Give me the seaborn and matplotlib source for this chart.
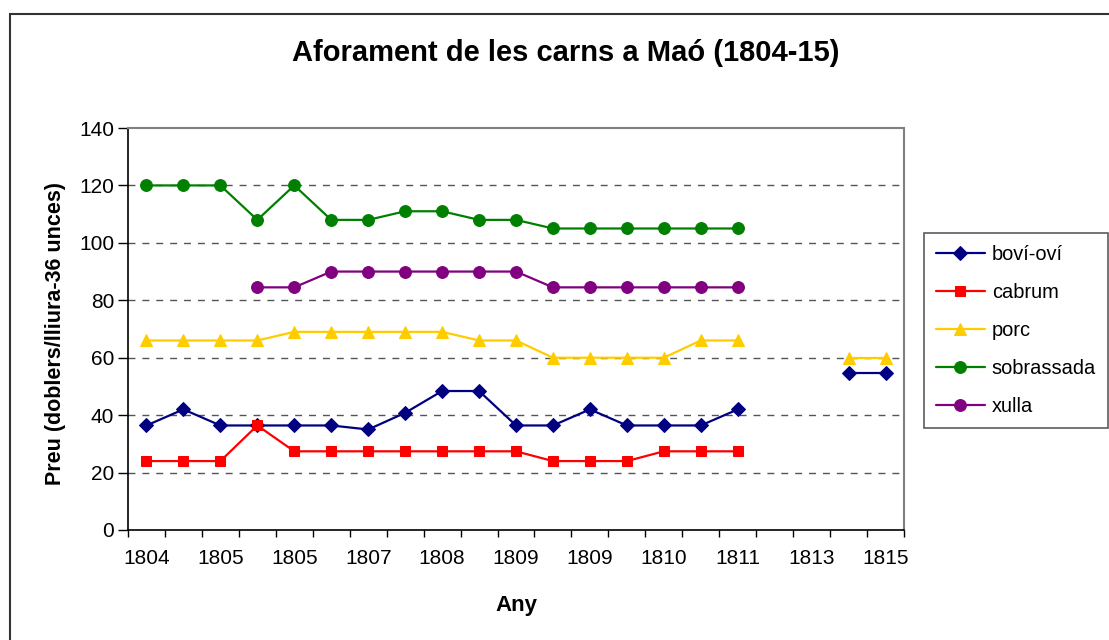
import numpy as np
import pandas as pd
import matplotlib
matplotlib.use("Agg")
import matplotlib.pyplot as plt
import seaborn as sns
from matplotlib.patches import Rectangle

# Dades llegides del gràfic (21 categories, etiqueta cada dues)
etiquetes_any = ["1804", "1805", "1805", "1807", "1808", "1809",
                 "1809", "1810", "1811", "1813", "1815"]
n_cat = 21
nan = np.nan

bovi_ovi = [36.4, 42.0, 36.4, 36.4, 36.4, 36.4, 35.0, 40.8, 48.4, 48.4, 36.4,
            36.4, 42.0, 36.4, 36.4, 36.4, 42.0, nan, nan, 54.5, 54.5]
cabrum = [24, 24, 24, 36.4, 27.4, 27.4, 27.4, 27.4, 27.4, 27.4, 27.4,
          24, 24, 24, 27.4, 27.4, 27.4, nan, nan, nan, nan]
porc = [66, 66, 66, 66, 69, 69, 69, 69, 69, 66, 66,
        60, 60, 60, 60, 66, 66, nan, nan, 60, 60]
sobrassada = [120, 120, 120, 108, 120, 108, 108, 111, 111, 108, 108,
              105, 105, 105, 105, 105, 105, nan, nan, nan, nan]
xulla = [nan, nan, nan, 84.5, 84.5, 90, 90, 90, 90, 90, 90,
         84.5, 84.5, 84.5, 84.5, 84.5, 84.5, nan, nan, nan, nan]

series = {"boví-oví": bovi_ovi, "cabrum": cabrum, "porc": porc,
          "sobrassada": sobrassada, "xulla": xulla}
colors = {"boví-oví": "#000080", "cabrum": "#FF0000", "porc": "#FFCC00",
          "sobrassada": "#008000", "xulla": "#800080"}
markers = {"boví-oví": "D", "cabrum": "s", "porc": "^",
           "sobrassada": "o", "xulla": "o"}
msizes = {"boví-oví": 7, "cabrum": 7.5, "porc": 9, "sobrassada": 8.5, "xulla": 8.5}

sns.set_style("white")
plt.rcParams["font.family"] = ["Liberation Sans", "DejaVu Sans"]
plt.rcParams["text.color"] = "black"
plt.rcParams["axes.labelcolor"] = "black"
plt.rcParams["xtick.color"] = "black"
plt.rcParams["ytick.color"] = "black"

fig = plt.figure(figsize=(11.09, 6.4), dpi=100)
ax = fig.add_axes([0.1154, 0.1719, 0.8152 - 0.1154, 0.8 - 0.1719])

x = np.arange(n_cat)
for nom, vals in series.items():
    df = pd.DataFrame({"x": x, "preu": vals})
    # separar en trams continus per deixar els buits
    df["tram"] = df["preu"].isna().cumsum()
    df = df.dropna()
    first = True
    for _, tram in df.groupby("tram"):
        sns.lineplot(data=tram, x="x", y="preu", ax=ax, color=colors[nom],
                     marker=markers[nom], markersize=msizes[nom],
                     markeredgecolor=colors[nom], linewidth=1.6,
                     label=nom if first else None, legend=False)
        first = False

ax.set_xlim(-0.5, n_cat - 0.5)
ax.set_ylim(0, 140)
ax.set_yticks(range(0, 141, 20))
ax.set_xticks(range(0, n_cat, 2))
ax.set_xticklabels(etiquetes_any)
ax.set_xticks(np.arange(-0.5, n_cat, 1), minor=True)
ax.tick_params(axis="x", which="major", length=0, pad=14, labelsize=15)
ax.tick_params(axis="x", which="minor", length=5, width=1, color="black",
               direction="out", bottom=True)
ax.tick_params(axis="y", length=7, width=1, color="black", direction="out",
               left=True, labelsize=15, pad=3)

for yv in range(20, 140, 20):
    ax.axhline(yv, color="#555555", linewidth=1, linestyle=(0, (5, 5)), zorder=0)

for s in ["left", "bottom"]:
    ax.spines[s].set_color("black")
    ax.spines[s].set_linewidth(1.2)
for s in ["top", "right"]:
    ax.spines[s].set_color("#808080")
    ax.spines[s].set_linewidth(1.5)

ax.set_xlabel("Any", fontsize=16, fontweight="bold", labelpad=19)
ax.set_ylabel("Preu (doblers/lliura-36 unces)", fontsize=15.5,
              fontweight="bold")
ax.yaxis.set_label_coords(-0.08, 0.49)
fig.text(0.51, 0.917, "Aforament de les carns a Maó (1804-15)",
         fontsize=21, fontweight="bold", ha="center", va="center")

handles, labels = ax.get_legend_handles_labels()
leg = fig.legend(handles, labels, loc="upper left",
                 bbox_to_anchor=(0.833, 0.636), frameon=True, fancybox=False,
                 fontsize=14.4, handlelength=2.45, handletextpad=0.35,
                 labelspacing=0.95, borderpad=0.6, borderaxespad=0)
leg.get_frame().set_edgecolor("#333333")
leg.get_frame().set_linewidth(1.2)

# marc exterior del gràfic
fig.patches.append(Rectangle((0.009, -0.05), 1.1, 0.978 + 0.05,
                             transform=fig.transFigure, fill=False,
                             edgecolor="#333333", linewidth=1.5))

fig.savefig("out.png", dpi=100)
